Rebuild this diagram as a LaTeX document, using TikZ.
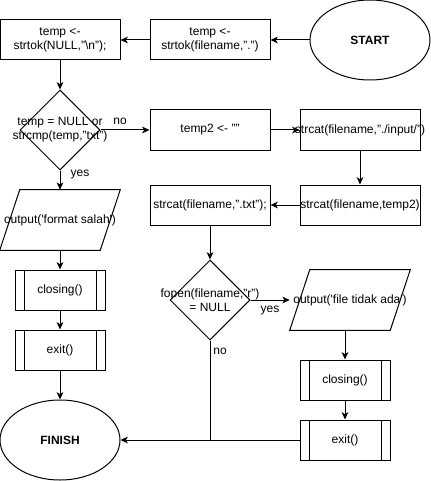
\documentclass[tikz,border=0pt]{standalone}
\usepackage{fontspec}
\setmainfont{Liberation Sans}
\usetikzlibrary{shapes.geometric,arrows.meta}

\begin{document}
\begin{tikzpicture}[x=0.75pt,y=-0.75pt,
  every node/.style={font=\fontsize{9pt}{10.5pt}\selectfont},
  txt/.style={label={[align=center,inner sep=0pt]center:{#1}}},
  base/.style={draw, line width=0.75pt, inner sep=0pt},
  proc/.style={base, rectangle, minimum width=90pt, minimum height=30pt},
  sub/.style={base, rectangle, minimum width=67.5pt, minimum height=30pt,
    path picture={
      \draw[line width=0.75pt]
        ([xshift=6.75pt]path picture bounding box.north west) --
        ([xshift=6.75pt]path picture bounding box.south west)
        ([xshift=-6.75pt]path picture bounding box.north east) --
        ([xshift=-6.75pt]path picture bounding box.south east);}},
  term/.style={base, ellipse, minimum width=90pt, minimum height=60pt},
  io/.style={rectangle, inner sep=0pt, minimum width=90pt, minimum height=45pt},
  dec/.style={draw, line width=0.75pt, inner sep=1pt, diamond, aspect=1,
    minimum width=60pt, minimum height=60pt},
  flow/.style={line width=0.75pt, -{Stealth[length=5.5pt,width=5pt,inset=1.5pt]}},
  wire/.style={line width=0.75pt},
  lbl/.style={inner sep=0pt}
]
\useasboundingbox (0,0) rectangle (431,481);

% terminals
\node[term, txt={\bfseries START}] (start) at (370,40) {};
\node[term, txt={\bfseries FINISH}] (fin) at (60,440) {};

% top row
\node[proc, txt={temp <-\\strtok(filename,".")}] (tokf) at (210,40) {};
\node[proc, txt={temp <-\\strtok(NULL,"\textbackslash n");}] (tokn) at (60,40) {};

% extension check
\node[dec, txt={temp = NULL or\\strcmp(temp,"txt")}] (chk) at (60,130) {};
\node[io, txt={output(\textquotesingle format salah\textquotesingle)}] (outerr) at (60,220) {};
\node[sub, txt={closing()}] (cl1) at (60,290) {};
\node[sub, txt={exit()}] (ex1) at (60,350) {};

% building the file path
\node[proc, txt={temp2 <- ""}] (tmp2) at (210,130) {};
\node[proc, txt={strcat(filename,"./input/")}] (cin) at (360,130) {};
\node[proc, txt={strcat(filename,temp2)}] (ctmp) at (360,205) {};
\node[proc, txt={strcat(filename,".txt");}] (ctxt) at (210,205) {};

% open check
\node[dec, txt={fopen(filename,"r")\\= NULL}] (fo) at (210,300) {};
\node[io, txt={output(\textquotesingle file tidak ada\textquotesingle)}] (outnf) at (350,300) {};
\node[sub, txt={closing()}] (cl2) at (345,380) {};
\node[sub, txt={exit()}] (ex2) at (345,440) {};

% parallelogram outlines of the two output nodes
\foreach \n in {outerr,outnf}
  \draw[wire] ([xshift=15pt]\n.north west) -- (\n.north east)
    -- ([xshift=-15pt]\n.south east) -- (\n.south west) -- cycle;

% connectors
\draw[flow] (start.west) -- (tokf.east);
\draw[flow] (tokf.west) -- (tokn.east);
\draw[flow] (tokn.south) -- (chk.north);
\draw[flow] (chk.east) -- (tmp2.west);
\draw[flow] (chk.south) -- (outerr.north);
\draw[flow] (outerr.south) -- (cl1.north);
\draw[flow] (cl1.south) -- (ex1.north);
\draw[flow] (ex1.south) -- (fin.north);
\draw[flow] (tmp2.east) -- (cin.west);
\draw[flow] (cin.south) -- (ctmp.north);
\draw[flow] (ctmp.west) -- (ctxt.east);
\draw[flow] (ctxt.south) -- (fo.north);
\draw[flow] (fo.east) -- (fo.east -| outnf.south west);
\draw[flow] (cl2.north |- outnf.south) -- (cl2.north);
\draw[flow] (cl2.south) -- (ex2.north);
\draw[flow] (ex2.west) -- (fin.east);
\draw[wire] (fo.south) -- (fo.south |- fin.east);

% branch labels
\node[lbl] (no1) at (120,121) {no};
\node[lbl] (yes1) at (80,175) {yes};
\node[lbl] (yes2) at (270,311) {yes};
\node[lbl] (no2) at (220,351) {no};
\end{tikzpicture}
\end{document}
